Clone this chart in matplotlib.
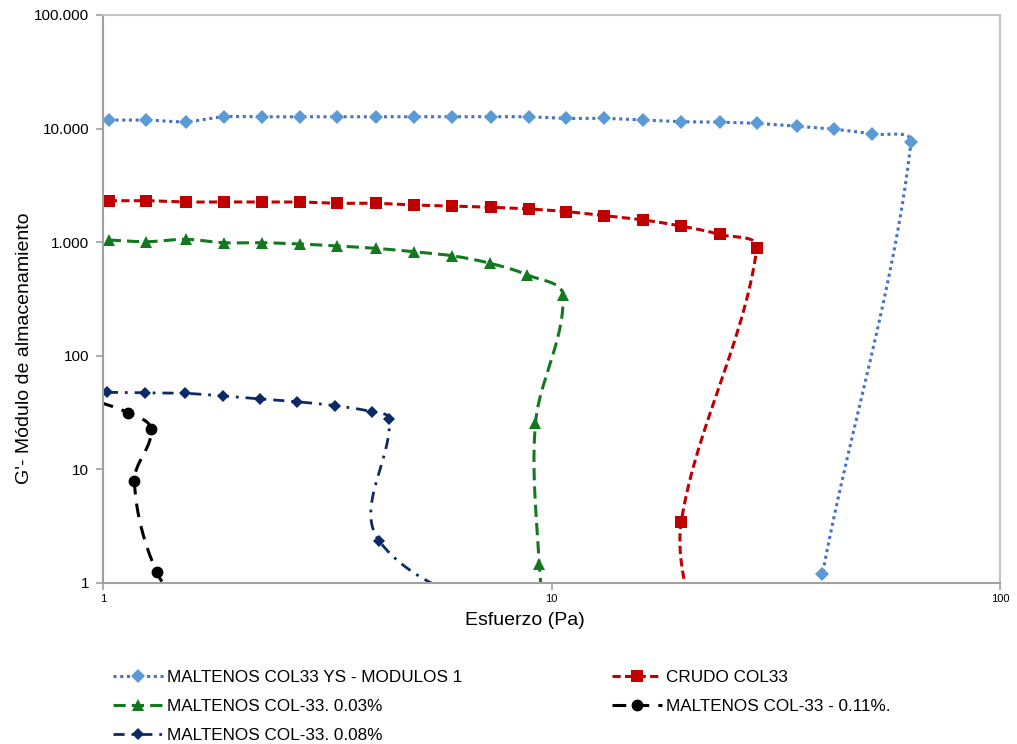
import numpy as np
import matplotlib.pyplot as plt
from matplotlib.lines import Line2D

plt.rcParams['font.family'] = ['Liberation Sans', 'DejaVu Sans']

# Esfuerzo (Pa) y G' (Pa) de cada muestra
esf_ys = [1.03, 1.25, 1.53, 1.86, 2.26, 2.75, 3.33, 4.06, 4.93, 6.00, 7.34, 8.92,
          10.8, 13.1, 16.0, 19.4, 23.7, 28.7, 35.2, 42.7, 51.8, 63.3, 40.2, 39.2]
g_ys = [11900, 11900, 11500, 12700, 12700, 12700, 12700, 12700, 12700, 12700, 12700, 12700,
        12300, 12300, 11900, 11500, 11400, 11100, 10500, 9860, 8960, 7570, 1.2, 0.3]

esf_crudo = [1.03, 1.25, 1.53, 1.86, 2.26, 2.75, 3.33, 4.06, 4.93, 6.00, 7.34, 8.92,
             10.8, 13.1, 16.0, 19.4, 23.7, 28.7, 19.47, 21.0]
g_crudo = [2320, 2320, 2260, 2260, 2260, 2260, 2200, 2200, 2125, 2080, 2030, 1960,
           1860, 1710, 1570, 1390, 1170, 890, 3.46, 0.3]

esf_003 = [1.03, 1.25, 1.53, 1.86, 2.26, 2.75, 3.33, 4.06, 4.93, 6.00, 7.3, 8.84,
           10.6, 9.21, 9.39, 9.8]
g_003 = [1046, 1010, 1060, 990, 990, 964, 926, 883, 825, 760, 652, 514,
         343, 25.5, 1.47, 0.3]

esf_011 = [0.88, 1.136, 1.28, 1.175, 1.318, 1.6]
g_011 = [45, 31.6, 22.5, 7.9, 1.24, 0.5]

esf_008 = [1.02, 1.24, 1.52, 1.85, 2.24, 2.71, 3.29, 3.97, 4.35, 4.13, 10.0]
g_008 = [47.7, 47.3, 46.8, 44.3, 41.7, 39.4, 36.4, 32.2, 27.8, 2.34, 0.35]

yticks = [1, 10, 100, 1000, 10000, 100000]
ytick_labels = ['1', '10', '100', '1.000', '10.000', '100.000']
xticks = [1, 10, 100]
xtick_labels = ['1', '10', '100']

# pixeles por decada en cada eje, para suavizar en el espacio del dibujo
KX, KY = 447.0, 113.6


def suavizar(x, y, n=30):
    # curva Bezier por tramos con tangentes tipo Catmull-Rom
    P = np.column_stack([np.log10(x) * KX, np.log10(y) * KY])
    m = len(P)
    d = np.zeros_like(P)
    d[0] = P[1] - P[0]
    d[-1] = P[-1] - P[-2]
    d[1:-1] = P[2:] - P[:-2]
    d /= np.linalg.norm(d, axis=1)[:, None]
    t = np.linspace(0, 1, n, endpoint=False)[:, None]
    pts = []
    for i in range(m - 1):
        L = np.linalg.norm(P[i + 1] - P[i])
        c0, c3 = P[i], P[i + 1]
        c1 = c0 + d[i] * L / 3
        c2 = c3 - d[i + 1] * L / 3
        seg = ((1 - t) ** 3 * c0 + 3 * (1 - t) ** 2 * t * c1
               + 3 * (1 - t) * t ** 2 * c2 + t ** 3 * c3)
        pts.append(seg)
    pts.append(P[-1][None, :])
    pts = np.vstack(pts)
    return 10 ** (pts[:, 0] / KX), 10 ** (pts[:, 1] / KY)


series = [
    (esf_ys, g_ys, 'MALTENOS COL33 YS - MODULOS 1', '#4472C4', '#5B9BD5', (0, (1, 1.2)), 2.2, 'D', 7),
    (esf_crudo, g_crudo, 'CRUDO COL33', '#C00000', '#C00000', (0, (2.7, 1.4)), 2.2, 's', 8.5),
    (esf_003, g_003, 'MALTENOS COL-33. 0.03%', '#13791E', '#13791E', (0, (4, 2)), 2.2, '^', 8.5),
    (esf_011, g_011, 'MALTENOS COL-33 - 0.11%.', '#000000', '#000000', (0, (4.5, 3)), 2.2, 'o', 8.5),
    (esf_008, g_008, 'MALTENOS COL-33. 0.08%', '#0B2A66', '#0B2A66', (0, (4, 2.5, 1, 2.5)), 2.0, 'D', 6.5),
]

fig = plt.figure(figsize=(10.17, 7.44), dpi=100)
ax = fig.add_axes([103 / 1017, 1 - 583 / 744, 897 / 1017, 568 / 744])

handles = {}
for x, y, lab, lc, mc, ls, lw, mk, ms in series:
    xs, ys = suavizar(x, y)
    ax.plot(xs, ys, color=lc, linestyle=ls, linewidth=lw)
    ax.plot(x, y, linestyle='none', marker=mk, markersize=ms, color=mc, markeredgewidth=0)
    handles[lab] = Line2D([], [], color=lc, linestyle=ls, linewidth=lw, marker=mk,
                          markersize=ms, markerfacecolor=mc, markeredgewidth=0, label=lab)

ax.set_xscale('log')
ax.set_yscale('log')
ax.set_xlim(1, 100)
ax.set_ylim(1, 100000)
ax.set_xticks(xticks, xtick_labels)
ax.set_yticks(yticks, ytick_labels)
ax.minorticks_off()

for s in ['left', 'bottom']:
    ax.spines[s].set_color('#A0A0A0')
    ax.spines[s].set_linewidth(1.5)
for s in ['top', 'right']:
    ax.spines[s].set_color('#C4C4C4')
    ax.spines[s].set_linewidth(1.5)
ax.tick_params(axis='both', direction='out', length=5, color='#A0A0A0', width=1.2)
ax.tick_params(axis='y', labelsize=11, pad=5)
ax.tick_params(axis='x', labelsize=8, pad=3)

ax.set_xlabel('Esfuerzo (Pa)', fontsize=14)
ax.set_ylabel("G'- Módulo de almacenamiento", fontsize=14)
ax.xaxis.set_label_coords((525 - 103) / 897, (583 - 612) / 568)
ax.yaxis.set_label_coords((33 - 103) / 897, (583 - 348) / 568)

estilo = dict(loc='upper left', frameon=False, fontsize=12.3, handlelength=2.9,
              handletextpad=0.25, labelspacing=0.83, borderpad=0, borderaxespad=0, numpoints=1)
col1 = ['MALTENOS COL33 YS - MODULOS 1', 'MALTENOS COL-33. 0.03%', 'MALTENOS COL-33. 0.08%']
col2 = ['CRUDO COL33', 'MALTENOS COL-33 - 0.11%.']
fig.legend(handles=[handles[k] for k in col1], bbox_to_anchor=(113 / 1017, 1 - 670 / 744), **estilo)
fig.legend(handles=[handles[k] for k in col2], bbox_to_anchor=(612 / 1017, 1 - 670 / 744), **estilo)

fig.savefig('out.png', dpi=100)
